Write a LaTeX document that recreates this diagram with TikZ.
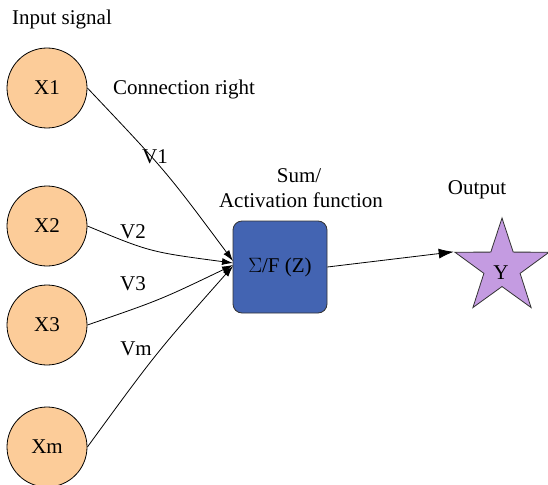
\documentclass[tikz,border=0pt]{standalone}
\usepackage{fontspec}
\setmainfont{Liberation Serif}
\usetikzlibrary{shapes.geometric,arrows.meta}
\definecolor{peach}{RGB}{252,204,153}
\definecolor{boxblue}{RGB}{67,100,178}
\definecolor{lilac}{RGB}{196,155,225}
\tikzset{
  every node/.style={font=\fontsize{21}{23}\selectfont, inner sep=0pt},
  inputnode/.style={circle, draw=black, line width=0.8pt, fill=peach, minimum size=80pt},
  sumbox/.style={rectangle, rounded corners=9pt, draw=black!80, line width=0.8pt, fill=boxblue, minimum width=94pt, minimum height=92pt},
  outstar/.style={star, star points=5, star point ratio=2.6, draw=black!80, line width=0.8pt, fill=lilac, minimum size=99pt},
  conn/.style={line width=0.8pt, -{Latex[length=11pt,width=7pt]}},
  outconn/.style={line width=0.8pt, -{Latex[length=15pt,width=10pt]}},
  lbl/.style={}
}
\begin{document}
\begin{tikzpicture}[x=1pt,y=-1pt]
\useasboundingbox (0,0) rectangle (548,484);
\node[inputnode] (x1) at (47,88) {X1};
\node[inputnode] (x2) at (47,226) {X2};
\node[inputnode] (x3) at (47,325) {X3};
\node[inputnode] (xm) at (47,447) {Xm};
\node[sumbox] (s) at (280,267) {$\Sigma$/F (Z)};
\node[outstar] (y) at (502,267.5) {};
\node (ylbl) at (501,273) {Y};
\coordinate (in1) at (233,261);
\coordinate (in2) at (233,263);
\coordinate (in3) at (233,265);
\coordinate (in4) at (233,266);
\node[lbl] (tin) at (62,19) {Input signal};
\node[lbl] (tcr) at (184,89) {Connection right};
\node[lbl] (tsum) at (299,176) {Sum/};
\node[lbl] (tact) at (301,200) {Activation function};
\node[lbl] (tout) at (477,190) {Output};
\node[lbl] (v1) at (155,157) {V1};
\node[lbl] (v2) at (133,232) {V2};
\node[lbl] (v3) at (133,284) {V3};
\node[lbl] (vm) at (136,349) {Vm};
\draw[conn] (x1.east) .. controls (166,171) .. (in1);
\draw[conn] (x2.east) .. controls (150,252) .. (in2);
\draw[conn] (x3.east) .. controls (160,300) .. (in3);
\draw[conn] (xm.east) .. controls (156,353) .. (in4);
\draw[outconn] (s.east) -- (y.outer point 2);
\end{tikzpicture}
\end{document}
